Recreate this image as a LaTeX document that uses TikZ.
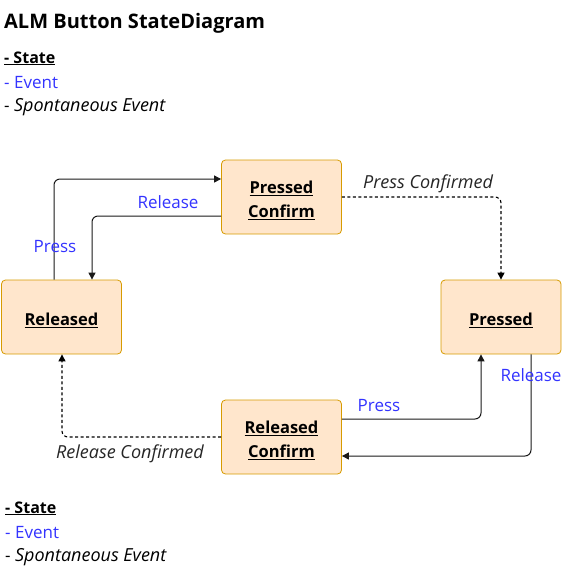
\documentclass[tikz,border=0pt]{standalone}
\usepackage{fontspec}
\setmainfont{Open Sans}
\usetikzlibrary{arrows.meta}
\definecolor{evblue}{RGB}{51,51,255}
\definecolor{stfill}{HTML}{FFE6CC}
\definecolor{stdraw}{HTML}{D79B00}
\newcommand{\fsz}[1]{\fontsize{#1}{1.4\dimexpr#1pt\relax}\selectfont}
\newcommand{\stlabel}[1]{\raisebox{0pt}[\dimexpr\height+8pt\relax][\depth]{\renewcommand{\arraystretch}{1.04}\begin{tabular}{@{}c@{}}#1\end{tabular}}}
\tikzset{
  statebox/.style={draw=stdraw, fill=stfill, rounded corners=4pt, minimum width=120pt, minimum height=74pt, inner sep=0pt, align=center, font=\fsz{16.5}\bfseries, line width=0.8pt},
  evlabel/.style={text=evblue, font=\fsz{17}, inner sep=0pt},
  splabel/.style={font=\fsz{18}\itshape, inner sep=0pt, text=black!85},
  legend/.style={anchor=base west, inner sep=0pt, font=\fsz{17}},
  conn/.style={draw=black!90, line width=1pt, rounded corners=6pt, -{Triangle[length=7pt,width=7pt]}},
  spconn/.style={conn, draw=black, line width=1.1pt, dash pattern=on 3pt off 2.5pt}
}
\begin{document}
\begin{tikzpicture}[x=1pt,y=-1pt]
\useasboundingbox (0,0) rectangle (563,566);
% title and top legend
\node[anchor=base west, inner sep=0pt, font=\fsz{20}\bfseries] (title) at (4,28) {ALM Button StateDiagram};
\node[legend, font=\fsz{16}\bfseries] (lgs1) at (4,63) {\underline{- State}};
\node[legend, text=evblue] (lge1) at (4,88) {- Event};
\node[legend] (lgp1) at (4,111) {- {\fsz{18}\itshape Spontaneous Event}};
% states
\node[statebox] (pc) at (281.5,197) {\stlabel{\underline{Pressed}\\\underline{Confirm}}};
\node[statebox] (rel) at (61.5,317) {\stlabel{\underline{Released}}};
\node[statebox] (pr) at (501,317) {\stlabel{\underline{Pressed}}};
\node[statebox] (rc) at (281.5,437) {\stlabel{\underline{Released}\\\underline{Confirm}}};
% connectors
\coordinate (a1) at (54,0);
\coordinate (a2) at (0,179);
\draw[conn] (rel.north -| a1) |- (pc.west |- a2);
\coordinate (b1) at (92,0);
\coordinate (b2) at (0,216);
\draw[conn] (pc.west |- b2) -| (rel.north -| b1);
\draw[spconn] (pc.east) -| (pr.north);
\coordinate (c1) at (531,0);
\coordinate (c2) at (0,456);
\draw[conn] (pr.south -| c1) |- (rc.east |- c2);
\coordinate (d1) at (481,0);
\coordinate (d2) at (0,419);
\draw[conn] (rc.east |- d2) -| (pr.south -| d1);
\coordinate (e1) at (62,0);
\draw[spconn] (rc.west) -| (rel.south -| e1);
% labels
\node[evlabel] (lpress1) at (55,247) {Press};
\node[evlabel] (lrel1) at (168,202) {Release};
\node[splabel] (lpc) at (428,184) {Press Confirmed};
\node[evlabel] (lrel2) at (531,375) {Release};
\node[evlabel] (lpress2) at (379,406) {Press};
\node[splabel] (lrc) at (130,454) {Release Confirmed};
% bottom legend
\node[legend, font=\fsz{16}\bfseries] (lgs2) at (5,513) {\underline{- State}};
\node[legend, text=evblue] (lge2) at (5,538) {- Event};
\node[legend] (lgp2) at (5,561) {- {\fsz{18}\itshape Spontaneous Event}};
\end{tikzpicture}
\end{document}
